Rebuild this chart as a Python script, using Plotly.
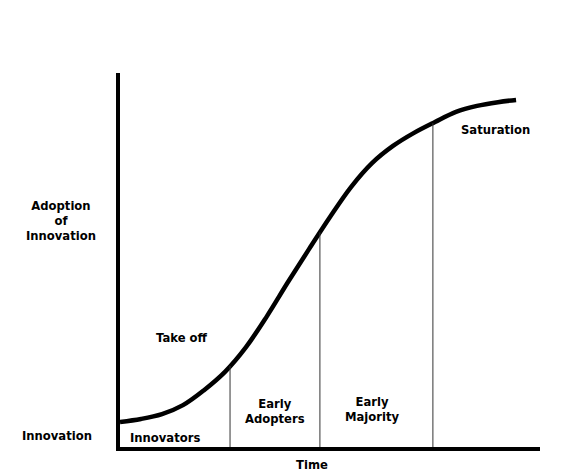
import numpy as np
import plotly.graph_objects as go

# S-curve of adoption (time in arbitrary units 0-100, adoption 0-100)
time = [0, 5, 10, 15, 20, 25, 30, 35, 40, 45, 50, 55, 60, 65, 70, 75, 80, 85, 90, 94.3]
adoption = [6.7, 7.5, 8.8, 11.2, 15.2, 20.1, 26.7, 35.0, 44.1, 52.9, 61.5, 69.5,
            75.9, 80.5, 84.0, 86.9, 89.6, 91.2, 92.2, 92.8]

# Phase boundaries (time) drawn as vertical lines up to the curve
boundaries = [26.2, 47.6, 74.5]

FONT = "DejaVu Sans"
fig = go.Figure()

fig.add_trace(go.Scatter(x=time, y=adoption, mode="lines",
                         line=dict(color="black", width=4.5, shape="spline", smoothing=1),
                         hoverinfo="skip", showlegend=False))

tops = np.interp(boundaries, time, adoption)
for b, t in zip(boundaries, tops):
    fig.add_trace(go.Scatter(x=[b, b], y=[0, t], mode="lines",
                             line=dict(color="#333333", width=1),
                             hoverinfo="skip", showlegend=False))

labels = [
    ("Adoption<br>of<br>Innovation", -0.140, 0.604),
    ("Innovation", -0.150, 0.029),
    ("Innovators", 0.107, 0.024),
    ("Take off", 0.148, 0.291),
    ("Early<br>Adopters", 0.369, 0.094),
    ("Early<br>Majority", 0.600, 0.099),
    ("Saturation", 0.893, 0.848),
    ("Time", 0.457, -0.048),
]
for text, x, y in labels:
    fig.add_annotation(text="<b>" + text.replace("<br>", "</b><br><b>") + "</b>",
                       x=x, y=y, xref="paper", yref="paper",
                       showarrow=False, xanchor="center", yanchor="middle",
                       font=dict(family=FONT, size=11.6, color="black"))

fig.update_layout(
    width=558, height=465,
    margin=dict(l=112, r=26, t=65, b=26),
    paper_bgcolor="white", plot_bgcolor="white",
    font=dict(family=FONT, size=11.6, color="black"),
    xaxis=dict(range=[0, 100], showgrid=False, zeroline=False, showticklabels=False,
               ticks="", showline=True, linecolor="black", linewidth=4),
    yaxis=dict(range=[0, 100], showgrid=False, zeroline=False, showticklabels=False,
               ticks="", showline=True, linecolor="black", linewidth=4),
)

fig.write_html("out.html")
